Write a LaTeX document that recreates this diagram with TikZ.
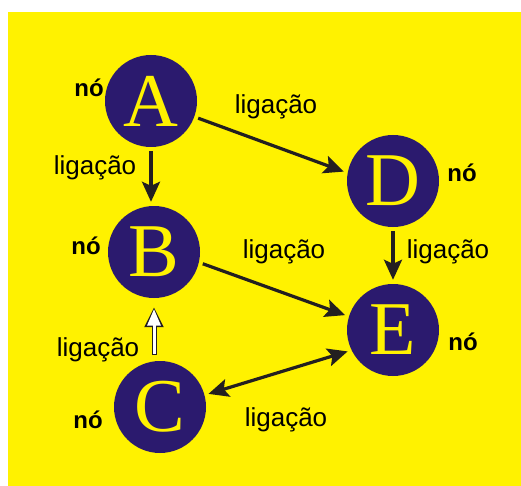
\documentclass[tikz,border=0pt]{standalone}
\usepackage{fontspec}
\setmainfont{Liberation Sans}
\newfontfamily\letrafont{Liberation Serif}
\usetikzlibrary{arrows.meta}

\definecolor{fundo}{RGB}{255,242,0}
\definecolor{roxo}{RGB}{43,26,110}
\definecolor{traco}{RGB}{35,31,32}

\tikzset{
  vertice/.style={circle, fill=roxo, minimum size=92pt, inner sep=0pt,
    text=fundo, font=\letrafont\fontsize{76}{76}\selectfont},
  rotulo/.style={anchor=base, inner sep=0pt, font=\fontsize{26}{26}\selectfont},
  nome/.style={anchor=base, inner sep=0pt, font=\bfseries\fontsize{24}{24}\selectfont},
  ponta/.tip={Stealth[length=20pt,width=18pt,inset=4pt]},
  ligacao/.style={draw=traco, line width=3.2pt, -ponta,
    shorten <=4pt, shorten >=4pt},
}

\begin{document}
\begin{tikzpicture}[x=1pt,y=-1pt]
  \useasboundingbox (0,0) rectangle (521,486);
  \fill[fundo] (8,12) rectangle (521,486);

  % os cinco nos
  \node[vertice] (A) at (151,101) {A};
  \node[vertice] (B) at (154,252) {B};
  \node[vertice] (C) at (160,407) {C};
  \node[vertice] (D) at (393,181) {D};
  \node[vertice] (E) at (393,330) {E};

  \node[nome] (nA) at (89,97) {nó};
  \node[nome] (nB) at (86,254) {nó};
  \node[nome] (nC) at (88,428) {nó};
  \node[nome] (nD) at (462,182) {nó};
  \node[nome] (nE) at (463,350) {nó};

  % ligacoes
  \draw[ligacao] (A.south) -- (A.south |- B.north);
  \draw[ligacao] (A.-20) -- (D.170);
  \draw[ligacao] (B.-13) -- (E.163);
  \draw[ligacao] (D) -- (E);
  \draw[ligacao, ponta-ponta] (C.15) -- (E.206);

  % seta vazada de C para B
  \coordinate (baseC) at (B.south |- C.north);
  \draw[traco, line width=5pt, -{Triangle[length=20pt,width=18pt]},
    shorten <=6pt, shorten >=9pt] (baseC) -- (B.south);
  \draw[white, line width=3pt, -{Triangle[length=16.5pt,width=13pt]},
    shorten <=7pt, shorten >=10.8pt] (baseC) -- (B.south);

  \node[rotulo] (lAB) at (95,175) {ligação};
  \node[rotulo] (lAD) at (276,114) {ligação};
  \node[rotulo] (lBE) at (284,258) {ligação};
  \node[rotulo] (lDE) at (448,258) {ligação};
  \node[rotulo] (lCB) at (98,356) {ligação};
  \node[rotulo] (lCE) at (286,426) {ligação};
\end{tikzpicture}
\end{document}
